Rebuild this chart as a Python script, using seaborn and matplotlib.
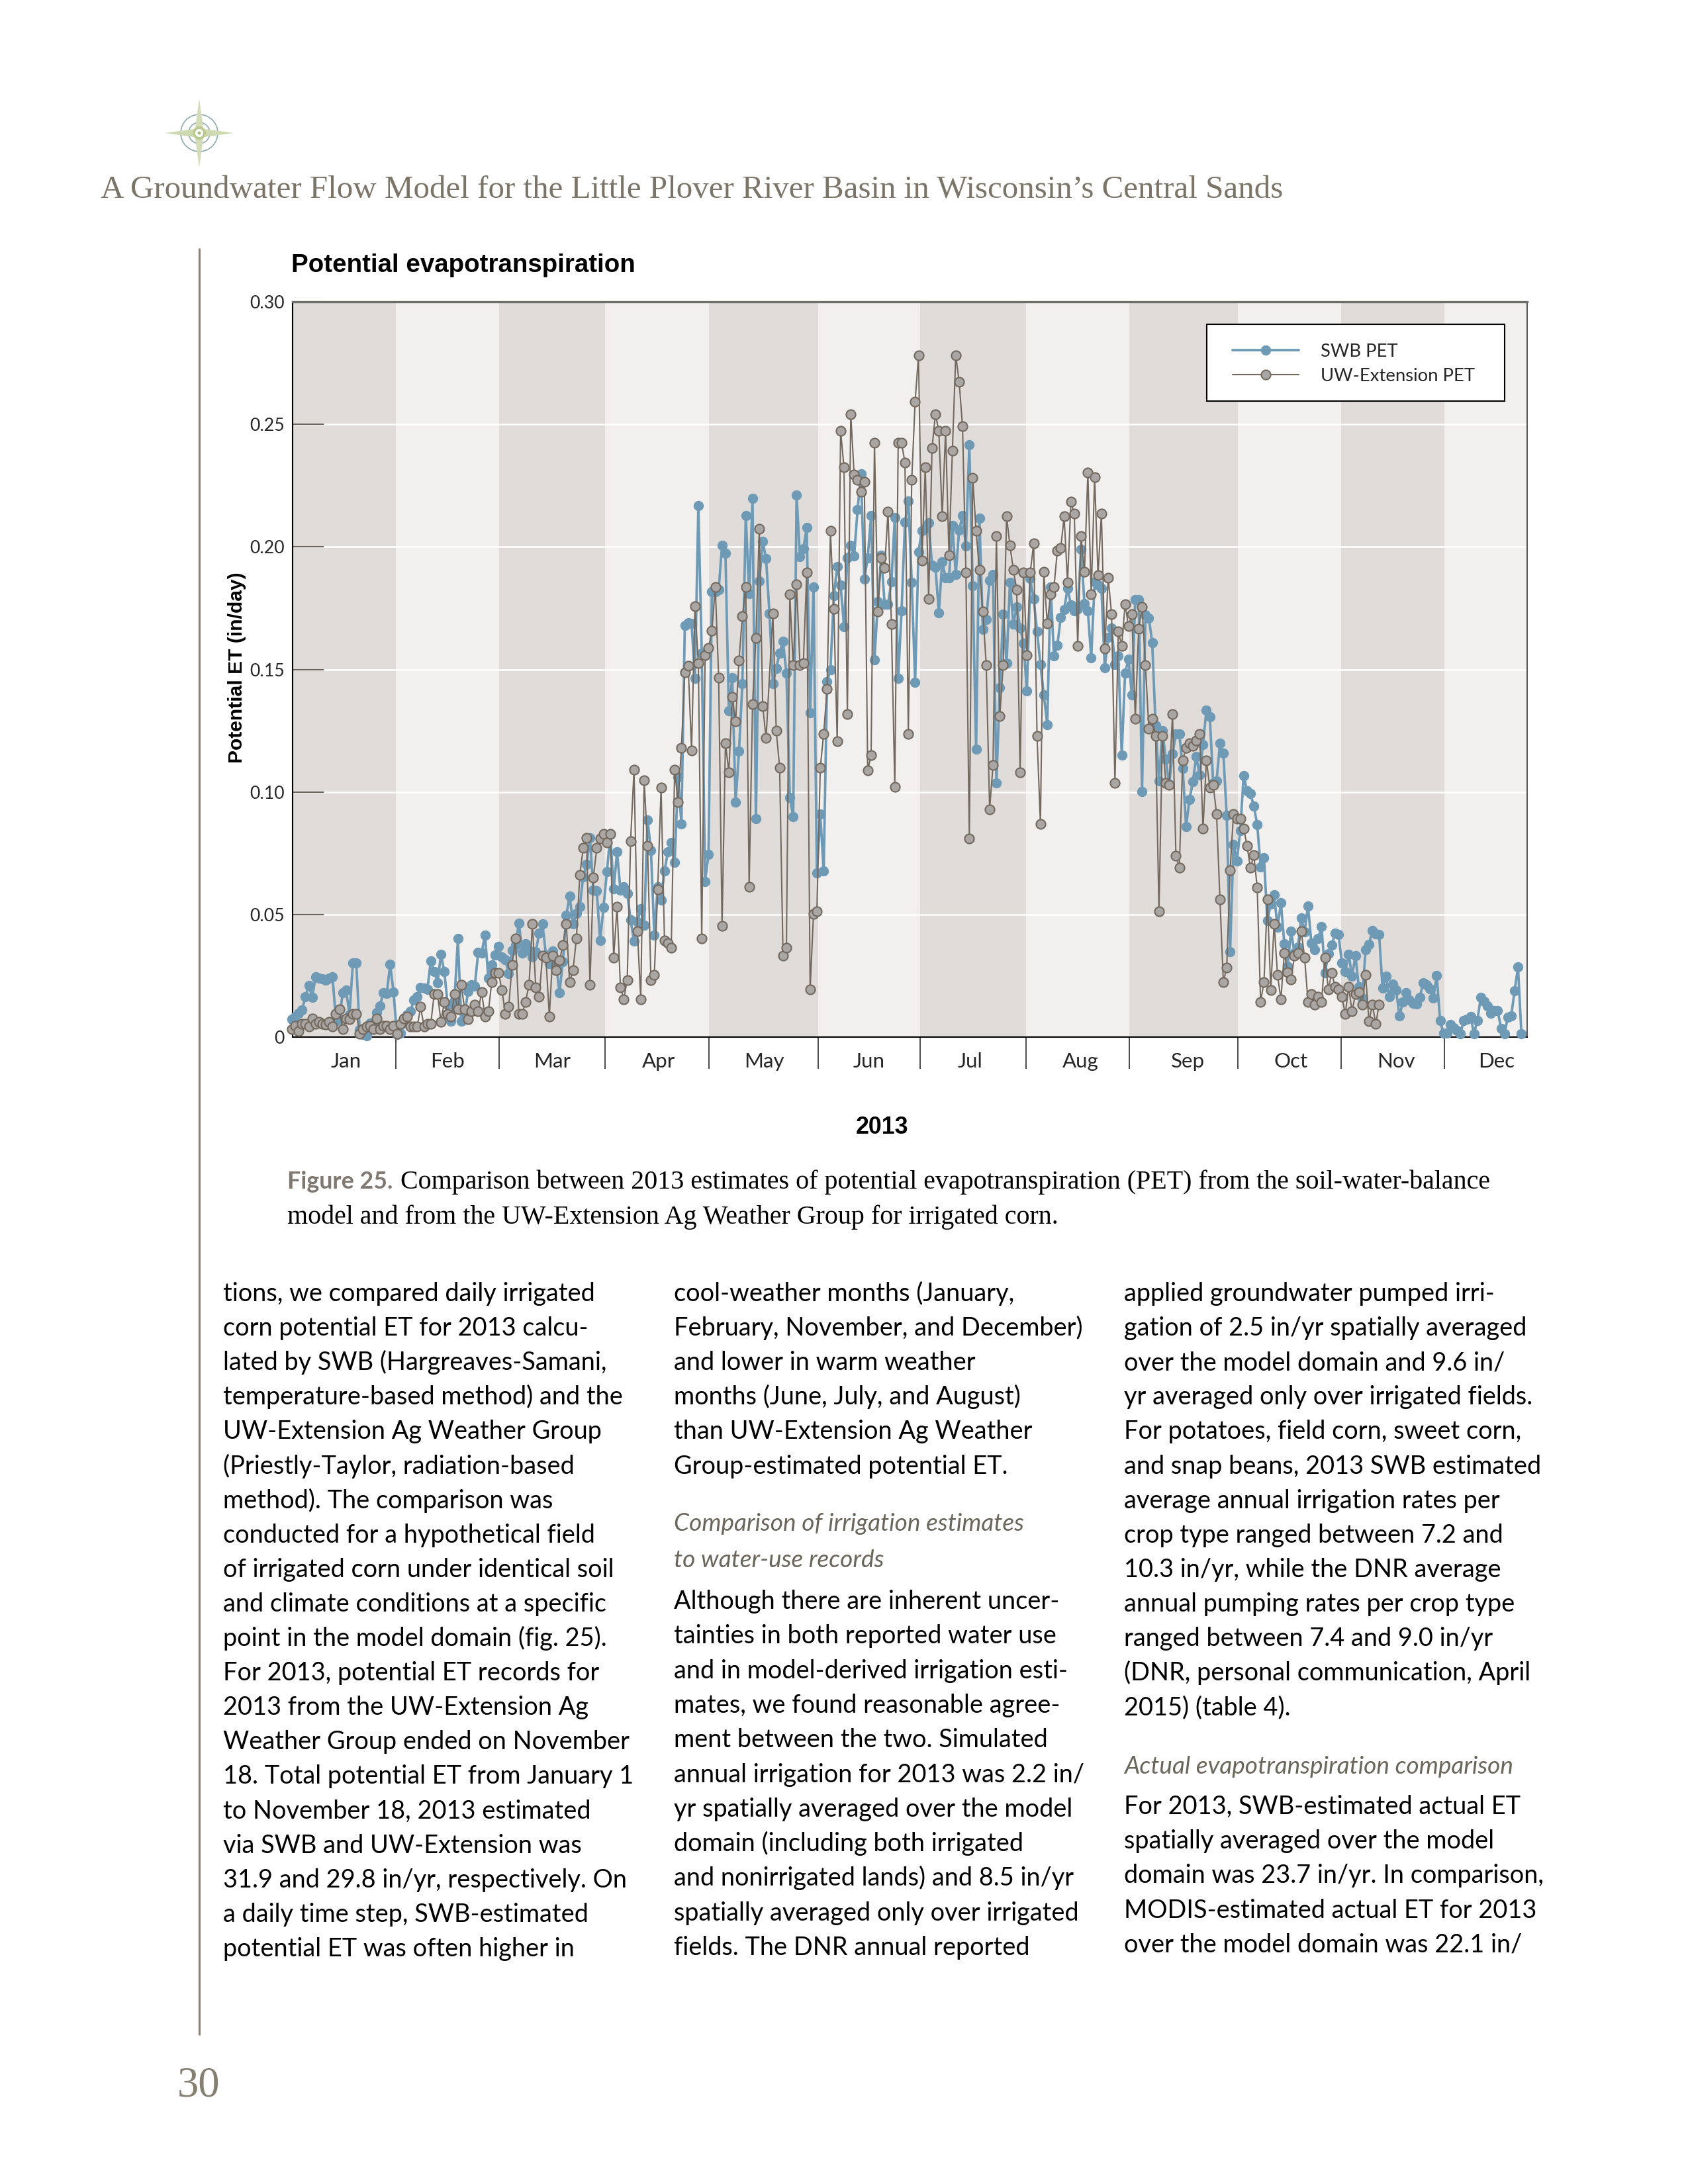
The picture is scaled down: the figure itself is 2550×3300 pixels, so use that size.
#!/usr/bin/env python3
"""Potential evapotranspiration page figure, redrawn from the report page."""
import numpy as np
import pandas as pd

import matplotlib
matplotlib.use('Agg')
import matplotlib.pyplot as plt
from matplotlib.patches import Circle, Polygon, Rectangle
import seaborn as sns

# Daily values, in/day
swb_pet = [
    .0072, .0085, .0096, .011, .0166, .0211, .0161, .0247, .024, .0238,
    .0231, .024, .0247, .0065, .0072, .0182, .0191, .0092, .0302, .0302,
    .0029, .0011, .0006, .0056, .0051, .0101, .0128, .0182, .0177, .0296,
    .0184, .0011, .0015, .0056, .0092, .0105, .015, .0164, .0203, .02,
    .0195, .031, .0267, .0222, .0337, .0266, .0132, .0065, .015, .0402,
    .0065, .0092, .0186, .0213, .0209, .0346, .0342, .0416, .024, .0294,
    .0335, .037, .0326, .0317, .0258, .0353, .0375, .0465, .0344, .038,
    .0353, .0326, .0348, .0425, .0461, .0335, .0299, .0351, .0299, .0182,
    .0308, .0497, .0576, .0461, .0506, .0533, .0654, .0704, .0812, .06,
    .0596, .0394, .0529, .0674, .0825, .0605, .0756, .0599, .0614, .0587,
    .0477, .0391, .047, .0523, .0455, .0887, .0761, .0417, .0614, .0559,
    .0677, .0755, .0793, .0712, .1061, .087, .1679, .169, .1687, .1463,
    .2169, .1566, .0635, .0746, .1816, .1816, .1826, .2007, .1973, .1331,
    .1467, .0959, .1167, .1443, .2129, .1808, .2198, .0891, .186, .2023,
    .1951, .1728, .1443, .1505, .1566, .1614, .1485, .0978, .0899, .2211,
    .196, .1993, .2079, .1322, .1837, .067, .0909, .0678, .1449, .1498,
    .1801, .1921, .1845, .1674, .1955, .2005, .1962, .2151, .2297, .1868,
    .1956, .2127, .154, .1777, .1966, .1766, .1766, .1859, .212, .1463,
    .1739, .21, .2188, .1855, .1447, .198, .2067, .2076, .2097, .1925,
    .1918, .1732, .1939, .1874, .1874, .2086, .1888, .2069, .2127, .2003,
    .2417, .1841, .1174, .2116, .1663, .1704, .1863, .1888, .1036, .1425,
    .1725, .1525, .1855, .1684, .1755, .167, .1608, .1412, .187, .1787,
    .1655, .1519, .1396, .1275, .1837, .1555, .1599, .1713, .1744, .1831,
    .1764, .174, .1748, .1989, .1768, .1738, .1548, .1858, .1844, .1831,
    .1507, .1631, .1669, .152, .1555, .1151, .1486, .1541, .1396, .1786,
    .1785, .1001, .1724, .171, .161, .1272, .1045, .1249, .1135, .1031,
    .1155, .1238, .1238, .1097, .0859, .0969, .1042, .1144, .107, .1194,
    .1334, .1307, .1038, .1045, .1199, .1159, .0904, .0348, .0787, .0719,
    .0843, .1067, .1005, .0994, .0942, .0868, .0695, .0731, .0474, .0542,
    .0581, .0447, .0547, .0382, .029, .0432, .0344, .0366, .0486, .0429,
    .0536, .0384, .0357, .0402, .045, .0263, .0339, .0375, .0425, .0418,
    .0303, .0267, .0337, .0249, .0332, .0204, .0159, .0357, .0378, .0436,
    .042, .0418, .02, .0249, .0166, .0216, .0193, .0086, .0144, .0182,
    .015, .0137, .0134, .0162, .0222, .0213, .0197, .0158, .0252, .0067,
    .0015, .0015, .005, .0038, .0027, .0014, .0068, .0072, .0083, .0014,
    .0068, .0162, .0146, .0128, .0096, .0108, .0108, .0036, .0014, .0081,
    .0087, .0189, .0287, .0014,
]

uw_pet = [
    .0033, .0047, .0024, .0054, .0054, .0042, .0076, .0054, .0063, .0054,
    .0051, .0063, .0043, .0094, .0113, .0033, .0076, .0074, .0095, .0095,
    .0014, .0033, .0042, .0045, .0033, .0076, .0033, .0045, .0045, .0033,
    .0045, .0014, .0054, .0076, .0085, .0043, .0043, .0043, .0123, .0043,
    .0054, .0054, .0175, .0175, .0063, .0144, .0095, .0085, .0175, .0113,
    .0213, .0113, .0074, .0104, .0133, .0104, .0184, .0085, .0104, .0224,
    .0263, .0263, .0193, .0095, .0123, .0293, .0402, .0095, .0095, .0144,
    .0213, .0462, .0203, .0164, .0333, .0323, .0085, .0333, .0273, .0312,
    .0374, .0463, .0224, .0273, .0402, .0662, .0771, .0812, .0213, .065,
    .0771, .0811, .0829, .0793, .0829, .0324, .0532, .0203, .0155, .0233,
    .08, .109, .0432, .0155, .1049, .078, .0233, .0253, .0602, .1018,
    .0394, .0383, .0364, .109, .0959, .1179, .1488, .1516, .1169, .1757,
    .1526, .0403, .1557, .1587, .1657, .1837, .1467, .0453, .1199, .1081,
    .1387, .1288, .1537, .1717, .1837, .0612, .1358, .1628, .2075, .1349,
    .122, np.nan, .1728, .1249, .1099, .0332, .0364, .1807, .1517, .1846,
    .1517, .1526, .1896, .0194, .0503, .0512, .1099, .1237, .1419, .2065,
    .1746, .1208, .2473, .2324, .1317, .2542, .2294, .2273, .2224, .2265,
    .1088, .1149, .2424, .1735, .1955, .1915, .2144, .1686, .102, .2424,
    .2424, .2344, .1237, .2273, .2592, .2782, .1944, .2324, .1787, .2404,
    .2542, .2473, .2125, .2473, .1966, .2393, .2782, .2673, .2492, .1896,
    .081, .2283, .2065, .1906, .1735, .1517, .093, .1109, .2045, .1309,
    .1517, .2125, .2005, .1906, .1826, .108, .1896, .1558, .1896, .2015,
    .1228, .087, .1897, .1687, .1806, .1836, .1986, .1995, .2124, .1855,
    .2184, .2135, .1596, .2045, .1897, .2303, .1806, .2284, .1884, .2135,
    .1586, .1875, .1725, .1038, .1655, .1596, .1766, .1676, .1725, .1299,
    .1665, .1756, .1518, .1259, .1299, .1228, .0512, .1228, .1038, .1029,
    .1318, .0741, .069, .1129, .1179, .1198, .1188, .1209, .1238, .085,
    .1129, .1019, .1029, .0911, .0563, .0224, .0284, .0681, .0911, .089,
    .089, .0851, .0781, .069, .0742, .0611, .0144, .0224, .0563, .0193,
    .0463, .0254, .0154, .0342, .0265, .0234, .0333, .0342, .0433, .0323,
    .0144, .0175, .0133, .0164, .0144, .0323, .0194, .0263, .0204, .0194,
    .0164, .0095, .0204, .0104, .0175, .0184, .0133, .0254, .0064, .0133,
    .0054, .0133,
]

months = ['Jan', 'Feb', 'Mar', 'Apr', 'May', 'Jun', 'Jul', 'Aug', 'Sep', 'Oct', 'Nov', 'Dec']
month_edges = [0.2, 30.7, 61.2, 92.4, 123.1, 155.3, 185.4, 216.7, 247.2, 279.2, 309.7, 340.2, 364.7]
month_labels_at = [15.9, 46, 76.9, 108.2, 139.5, 170.3, 200.3, 232.9, 264.6, 295, 326, 355.6]
et_ticks = [0, 0.05, 0.10, 0.15, 0.20, 0.25, 0.30]
et_tick_labels = ['0', '0.05', '0.10', '0.15', '0.20', '0.25', '0.30']

header = 'A Groundwater Flow Model for the Little Plover River Basin in Wisconsin\u2019s Central Sands'
caption_1 = ('Comparison between 2013 estimates of potential evapotranspiration (PET) '
             'from the soil-water-balance')
caption_2 = 'model and from the UW-Extension Ag Weather Group for irrigated corn.'

col_1 = [
    'tions, we compared daily irrigated', 'corn potential ET for 2013 calcu-',
    'lated by SWB (Hargreaves-Samani,', 'temperature-based method) and the',
    'UW-Extension Ag Weather Group', '(Priestly-Taylor, radiation-based',
    'method). The comparison was', 'conducted for a hypothetical field',
    'of irrigated corn under identical soil', 'and climate conditions at a specific',
    'point in the model domain (fig. 25).', 'For 2013, potential ET records for',
    '2013 from the UW-Extension Ag', 'Weather Group ended on November',
    '18. Total potential ET from January 1', 'to November 18, 2013 estimated',
    'via SWB and UW-Extension was', '31.9 and 29.8 in/yr, respectively. On',
    'a daily time step, SWB-estimated', 'potential ET was often higher in',
]
col_2a = [
    'cool-weather months (January,', 'February, November, and December)',
    'and lower in warm weather', 'months (June, July, and August)',
    'than UW-Extension Ag Weather', 'Group-estimated potential ET.',
]
col_2head = ['Comparison of irrigation estimates', 'to water-use records']
col_2b = [
    'Although there are inherent uncer-', 'tainties in both reported water use',
    'and in model-derived irrigation esti-', 'mates, we found reasonable agree-',
    'ment between the two. Simulated', 'annual irrigation for 2013 was 2.2 in/',
    'yr spatially averaged over the model', 'domain (including both irrigated',
    'and nonirrigated lands) and 8.5 in/yr', 'spatially averaged only over irrigated',
    'fields. The DNR annual reported',
]
col_3a = [
    'applied groundwater pumped irri-', 'gation of 2.5 in/yr spatially averaged',
    'over the model domain and 9.6 in/', 'yr averaged only over irrigated fields.',
    'For potatoes, field corn, sweet corn,', 'and snap beans, 2013 SWB estimated',
    'average annual irrigation rates per', 'crop type ranged between 7.2 and',
    '10.3 in/yr, while the DNR average', 'annual pumping rates per crop type',
    'ranged between 7.4 and 9.0 in/yr', '(DNR, personal communication, April',
    '2015) (table 4).',
]
col_3head = 'Actual evapotranspiration comparison'
col_3b = [
    'For 2013, SWB-estimated actual ET', 'spatially averaged over the model',
    'domain was 23.7 in/yr. In comparison,', 'MODIS-estimated actual ET for 2013',
    'over the model domain was 22.1 in/',
]

# Colours
BLUE = '#6f9ab6'
GREY_EDGE = '#74695f'
GREY_FACE = '#a9a6a3'
BAND_DARK = '#dfdcda'
BAND_LIGHT = '#f1f0ee'
WARM = '#7b7468'

SERIF = ['Liberation Serif', 'DejaVu Serif']

sns.set_style('ticks')
plt.rcParams['font.family'] = ['Lato', 'DejaVu Sans']

W, H = 2550, 3300
fig = plt.figure(figsize=(8.5, 11), dpi=300)

# page layer, drawn in page pixels
page = fig.add_axes([0, 0, 1, 1], zorder=0)
page.set_xlim(0, W)
page.set_ylim(H, 0)
page.axis('off')

# ornament above the header
cx, cy = 301, 201
for r, col, lw in [(28, '#8fa9b0', 0.4), (16, '#8fa9b0', 0.4)]:
    page.add_patch(Circle((cx, cy), r, fill=False, ec=col, lw=lw))
page.add_patch(Polygon([(cx, cy - 52), (cx + 7, cy), (cx, cy + 52), (cx - 7, cy)],
                       fc='#d3dcb6', ec='none'))
page.add_patch(Polygon([(cx - 52, cy), (cx, cy - 7), (cx + 52, cy), (cx, cy + 7)],
                       fc='#cfd9af', ec='none'))
page.add_patch(Circle((cx, cy), 8, fc='white', ec='#b9c98f', lw=0.9))
page.add_patch(Circle((cx, cy), 2.5, fc='#a8bb78', ec='none'))

page.text(152, 300, header, family=SERIF, fontsize=11.75, color=WARM, va='baseline')
page.plot([301, 301], [375, 3075], color='#8a8479', lw=0.75, solid_capstyle='butt')
page.text(300, 3168, '30', family=SERIF, fontsize=15.5, color='#857f72', ha='center', va='baseline')

page.text(440, 411, 'Potential evapotranspiration', family=['Liberation Sans'], fontsize=9.25,
          fontweight='bold', color='black', va='baseline')
page.text(358, 1009, 'Potential ET (in/day)', family=['Liberation Sans'], fontsize=7.2,
          fontweight='bold', rotation=90, ha='center', va='center', color='black')
page.text(1332, 1713, '2013', family=['Liberation Sans'], fontsize=8.6, fontweight='bold',
          ha='center', va='baseline', color='black')

page.text(434, 1796, 'Figure 25.', fontsize=8.6, fontweight='bold', color='#7f7870', va='baseline')
page.text(605, 1796, caption_1, family=SERIF, fontsize=9.6, color='black', va='baseline')
page.text(434, 1849, caption_2, family=SERIF, fontsize=9.6, color='black', va='baseline')

# body columns
BODY = dict(fontsize=9.1, color='black', va='baseline')
HEAD = dict(fontsize=8.9, style='italic', color='#6b665c', va='baseline')
for i, line in enumerate(col_1):
    page.text(337, 1966 + 52.1 * i, line, **BODY)
for i, line in enumerate(col_2a):
    page.text(1018, 1966 + 52.1 * i, line, **BODY)
for i, line in enumerate(col_2head):
    page.text(1018, 2313 + 55 * i, line, **HEAD)
for i, line in enumerate(col_2b):
    page.text(1018, 2431 + 52.3 * i, line, **BODY)
for i, line in enumerate(col_3a):
    page.text(1698, 1966 + 52.1 * i, line, **BODY)
page.text(1698, 2680, col_3head, **HEAD)
for i, line in enumerate(col_3b):
    page.text(1698, 2741 + 52.2 * i, line, **BODY)

# chart
ax = fig.add_axes([442 / W, 1 - 1567 / H, 1865 / W, 1111 / H], zorder=2)

for i in range(12):
    ax.axvspan(month_edges[i], month_edges[i + 1], color=BAND_DARK if i % 2 == 0 else BAND_LIGHT,
               lw=0, zorder=0)

df_swb = pd.DataFrame({'day': np.arange(len(swb_pet)), 'pet': swb_pet})
df_uw = pd.DataFrame({'day': np.arange(len(uw_pet)), 'pet': uw_pet})

sns.lineplot(data=df_swb, x='day', y='pet', ax=ax, color=BLUE, linewidth=0.9, marker='o',
             markersize=3.7, markeredgewidth=0, markerfacecolor=BLUE, estimator=None, sort=False,
             clip_on=False, zorder=3, label='SWB PET')
sns.lineplot(data=df_uw, x='day', y='pet', ax=ax, color=GREY_EDGE, linewidth=0.5, marker='o',
             markersize=3.4, markeredgewidth=0.5, markeredgecolor=GREY_EDGE,
             markerfacecolor=GREY_FACE, estimator=None, sort=False, clip_on=False, zorder=4,
             label='UW-Extension PET')

ax.set_xlim(month_edges[0], month_edges[-1])
ax.set_ylim(0, 0.30)
ax.set_xlabel('')
ax.set_ylabel('')
ax.set_yticks(et_ticks)
ax.set_yticklabels(et_tick_labels, fontsize=6.4)
ax.set_xticks(month_edges[1:-1])
ax.set_xticklabels([])
ax.set_xticks(month_labels_at, labels=months, minor=True)
ax.tick_params(axis='x', which='major', length=11.6, width=0.45, color='#444444', direction='out')
ax.tick_params(axis='x', which='minor', length=0, pad=5.5, labelsize=7.5)
ax.tick_params(axis='y', length=11.3, width=0.5, color='#6b625a', direction='in', pad=3)
ax.grid(axis='y', color='white', linewidth=0.6)
ax.set_axisbelow(True)
for side, col, lw in [('left', 'black', 0.5), ('bottom', 'black', 0.5),
                      ('top', '#6e6e6a', 0.8), ('right', '#333333', 0.4)]:
    ax.spines[side].set_visible(True)
    ax.spines[side].set_color(col)
    ax.spines[side].set_linewidth(lw)

# legend box sized on its own, the entries sit inside it
ax.add_patch(Rectangle((1823 / W, 1 - 606 / H), 450 / W, 116 / H, transform=fig.transFigure,
                       fc='white', ec='black', lw=0.5, zorder=5, clip_on=False))
leg = ax.legend(loc='upper left', bbox_to_anchor=(1862 / W, 1 - 519 / H), bbox_transform=fig.transFigure,
                frameon=False, fontsize=6.6, handlelength=3.65, handletextpad=1.2, labelspacing=0.42,
                borderpad=0, borderaxespad=0)
leg.set_zorder(6)

print(len(swb_pet), len(uw_pet))
fig.savefig('out.png', dpi=300, facecolor='white')
